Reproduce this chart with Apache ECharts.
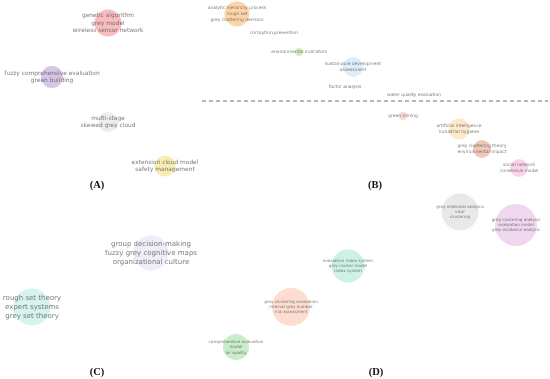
<!DOCTYPE html>
<html>
<head>
<meta charset="utf-8">
<script src="https://cdn.jsdelivr.net/npm/echarts@6/dist/echarts.min.js"></script>
<style>html,body{margin:0;padding:0;background:#fff;}#chart{width:550px;height:379px;}</style>
</head>
<body>
<div id="chart"></div>
<script>
// Panel A
var aLabels = ['genetic algorithm\ngrey model\nwireless sensor network', 'fuzzy comprehensive evaluation\ngreen building', 'multi-stage\nskewed grey cloud', 'extension cloud model\nsafety management'];
var aX = [108, 52, 108, 165];
var aY = [23, 77, 122, 166];
var aSize = [27, 22, 20, 21];
// Panel B
var bLabels = ['analytic hierarchy process\nrough set\ngrey clustering decision', 'corruption prevention', 'environmental indicators', 'sustainable development\nassessment', 'factor analysis', 'water quality evaluation', 'green mining', 'artificial intelligence\nindustrial hygiene', 'grey clustering theory\nenvironmental impact', 'social network\nconsensus model'];
var bX = [37, 74, 99, 153, 145, 214, 203, 259, 282, 319];
var bY = [14, 33, 52, 67, 87, 95, 116, 129, 149, 168];
var bSize = [25, 3, 8, 20, 3, 3, 8, 21, 18, 18];
var bDividerX = [2, 348];
var bDividerY = [101, 101];
// Panel C
var cLabels = ['group decision-making\nfuzzy grey cognitive maps\norganizational culture', 'rough set theory\nexpert systems\ngrey set theory', 'comprehensive evaluation\nmodel\nair quality'];
var cX = [151, 32, 236];
var cY = [63, 117, 157];
var cSize = [35, 37, 26];
// Panel D
var dLabels = ['grey relational analysis\nvikor\nclustering', 'grey clustering analysis\nevaluation model\ngrey incidence analysis', 'evaluation index system\ngrey cluster model\nindex system', 'grey clustering evaluation\ninterval grey number\nrisk assessment'];
var dX = [185, 241, 73, 16];
var dY = [22, 35, 76, 117];
var dSize = [37, 42, 33, 38];
var panelTitles = ['(A)', '(B)', '(C)', '(D)'];

// styles
var aColors = ['#f8adad', '#cdb6de', '#e8e8e8', '#f8e8a2'];
var bColors = ['#fcca92', '#f3e6f0', '#cbe8ad', '#d6e9f6', '#f3efe6', '#eef2f6', '#f9cdcd', '#fde3c2', '#eabca5', '#f9cbe5'];
var cColors = ['#eae8f6', '#cbf1e8', '#bce7bc'];
var dColors = ['#e4e4e4', '#ebcdeb', '#c0eedf', '#fdd5c6'];

function build(labels, xs, ys, sizes, colors, fontSizes, lineHeights) {
  return labels.map(function (l, i) {
    return {
      name: l,
      value: [xs[i], ys[i], sizes[i]],
      itemStyle: { color: colors[i] },
      label: { fontSize: fontSizes[i], lineHeight: lineHeights[i] }
    };
  });
}
function fill(n, v) { var r = []; for (var i = 0; i < n; i++) r.push(v); return r; }

var labelBase = { show: true, position: 'inside', formatter: '{b}', color: '#5a5a5a', fontFamily: 'DejaVu Sans' };
function scatter(idx, data) {
  return {
    type: 'scatter', xAxisIndex: idx, yAxisIndex: idx, silent: true,
    symbolSize: function (v) { return v[2]; },
    label: labelBase, data: data, z: 2
  };
}

var grids = [
  { left: 0, top: 0, width: 275, height: 190 },
  { left: 200, top: 0, width: 350, height: 190 },
  { left: 0, top: 190, width: 275, height: 189 },
  { left: 275, top: 190, width: 275, height: 189 }
];
var xMax = [275, 350, 275, 275];
var yMax = [190, 190, 189, 189];

var cFont = [7, 7, 4.15];
var cLH = [9, 9, 5.5];

var option = {
  animation: false,
  backgroundColor: '#fff',
  grid: grids,
  xAxis: grids.map(function (g, i) { return { type: 'value', gridIndex: i, min: 0, max: xMax[i], show: false }; }),
  yAxis: grids.map(function (g, i) { return { type: 'value', gridIndex: i, min: 0, max: yMax[i], inverse: true, show: false }; }),
  series: [
    scatter(0, build(aLabels, aX, aY, aSize, aColors, fill(4, 5.9), fill(4, 7.7))),
    scatter(1, build(bLabels, bX, bY, bSize, bColors, fill(10, 4.45), fill(10, 6))),
    {
      type: 'line', xAxisIndex: 1, yAxisIndex: 1, silent: true, symbol: 'none', z: 1,
      data: bDividerX.map(function (x, i) { return [x, bDividerY[i]]; }),
      lineStyle: { color: '#6e6e6e', width: 1.2, type: [4, 3] }
    },
    scatter(2, build(cLabels, cX, cY, cSize, cColors, cFont, cLH)),
    scatter(3, build(dLabels, dX, dY, dSize, dColors, fill(4, 4.1), fill(4, 5.3)))
  ],
  graphic: panelTitles.map(function (t, i) {
    var pos = [[97, 185], [375, 185], [97, 372], [376, 372]][i];
    return {
      type: 'text', x: pos[0], y: pos[1], silent: true,
      style: { text: t, fill: '#111', fontSize: 10.5, fontWeight: 'bold', fontFamily: 'Liberation Serif', align: 'center', verticalAlign: 'middle' }
    };
  })
};

var chart = echarts.init(document.getElementById('chart'), null, { renderer: 'canvas' });
chart.setOption(option);
</script>
</body>
</html>
